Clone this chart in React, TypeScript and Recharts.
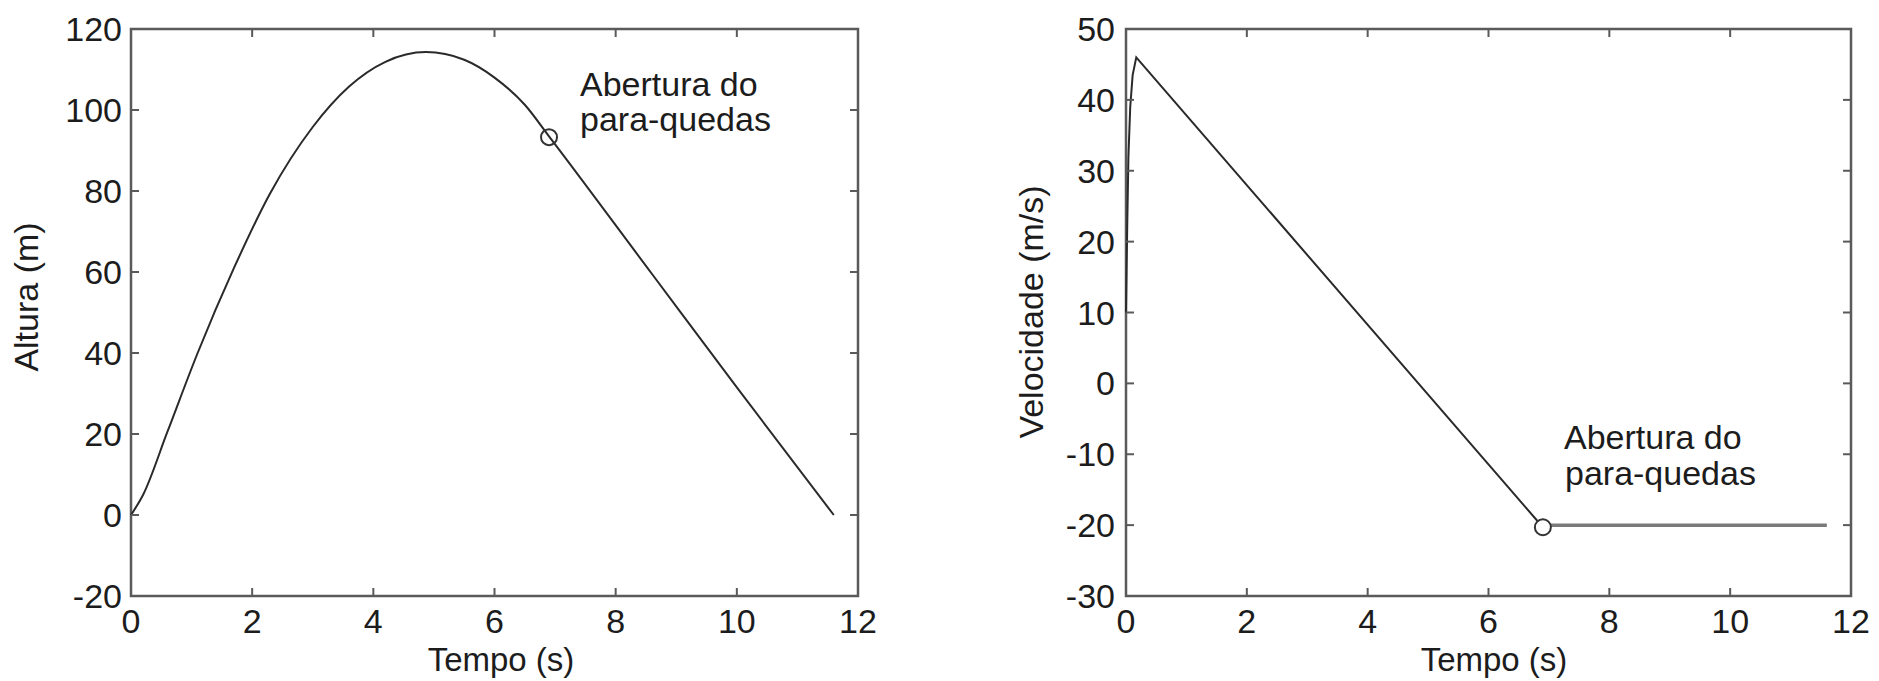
import React from "react";
import { LineChart, Line, XAxis, YAxis, ReferenceArea, ReferenceDot } from "recharts";

// Altura (m) vs Tempo (s)
const heightTime = [0, 0.2, 0.6, 1.1, 1.7, 2.3, 3.0, 3.6, 4.2, 4.87, 5.5, 6.0, 6.5, 6.9, 8.6, 10.0, 11.6];
const heightValue = [0, 5, 20.5, 40, 61, 79.5, 95.8, 105.8, 111.9, 114.3, 112.4, 108, 101.3, 93.5, 59.5, 31.5, 0];

// Velocidade (m/s) vs Tempo (s), before the parachute opens
const velTime = [0, 0.02, 0.04, 0.07, 0.11, 0.17, 6.9];
const velValue = [10, 22, 32, 39, 43.5, 46, -20.3];
// after the parachute opens
const chuteTime = [6.9, 11.6];
const chuteValue = [-20, -20];

// parachute opening markers [t, value]
const heightOpen = [6.9, 93.3];
const velOpen = [6.9, -20.3];

const xTicks = [0, 2, 4, 6, 8, 10, 12];
const heightTicks = [-20, 0, 20, 40, 60, 80, 100, 120];
const velTicks = [-30, -20, -10, 0, 10, 20, 30, 40, 50];

const heightData = heightTime.map((t, i) => ({ t, h: heightValue[i] }));
const velData = velTime.map((t, i) => ({ t, v: velValue[i] }));
const chuteData = chuteTime.map((t, i) => ({ t, v: chuteValue[i] }));

const FONT = '"Liberation Sans", Arial, Helvetica, sans-serif';
const INK = "#1c1c1c";
const BOX = "#5a5a5a";
const TICK_LEN = 8;

const makeXTick = (plotTop: number) => (props: any) => {
  const { x, y, payload } = props;
  return (
    <g>
      <line x1={x} y1={y} x2={x} y2={y - TICK_LEN} stroke={BOX} strokeWidth={2} />
      <line x1={x} y1={plotTop} x2={x} y2={plotTop + TICK_LEN} stroke={BOX} strokeWidth={2} />
      <text x={x} y={y + 37} textAnchor="middle" fontSize={34} fontFamily={FONT} fill={INK}>
        {payload.value}
      </text>
    </g>
  );
};

const makeYTick = (plotRight: number, gap: number) => (props: any) => {
  const { x, y, payload } = props;
  return (
    <g>
      <line x1={x} y1={y} x2={x + TICK_LEN} y2={y} stroke={BOX} strokeWidth={2} />
      <line x1={plotRight} y1={y} x2={plotRight - TICK_LEN} y2={y} stroke={BOX} strokeWidth={2} />
      <text x={x - gap} y={y + 12} textAnchor="end" fontSize={34} fontFamily={FONT} fill={INK}>
        {payload.value}
      </text>
    </g>
  );
};

function HeightChart() {
  return (
    <LineChart width={940} height={681} margin={{ top: 29, right: 82, bottom: 0, left: 0 }}>
      <XAxis
        type="number"
        dataKey="t"
        domain={[0, 12]}
        ticks={xTicks}
        height={85}
        axisLine={false}
        tickLine={false}
        tickSize={0}
        tickMargin={0}
        tick={makeXTick(29)}
        interval={0}
      />
      <YAxis
        type="number"
        domain={[-20, 120]}
        ticks={heightTicks}
        width={131}
        axisLine={false}
        tickLine={false}
        tickSize={0}
        tickMargin={0}
        tick={makeYTick(858, 9)}
        interval={0}
      />
      <ReferenceArea x1={0} x2={12} y1={-20} y2={120} fill="none" stroke={BOX} strokeWidth={2.5} />
      <Line
        data={heightData}
        dataKey="h"
        type="monotone"
        stroke="#2a2a2a"
        strokeWidth={2}
        dot={false}
        isAnimationActive={false}
      />
      <ReferenceDot x={heightOpen[0]} y={heightOpen[1]} r={8} fill="none" stroke="#333" strokeWidth={2} />
    </LineChart>
  );
}

function VelocityChart() {
  return (
    <LineChart width={939} height={681} margin={{ top: 29, right: 28, bottom: 0, left: 0 }}>
      <XAxis
        type="number"
        dataKey="t"
        domain={[0, 12]}
        ticks={xTicks}
        height={85}
        axisLine={false}
        tickLine={false}
        tickSize={0}
        tickMargin={0}
        tick={makeXTick(29)}
        interval={0}
      />
      <YAxis
        type="number"
        domain={[-30, 50]}
        ticks={velTicks}
        width={186}
        axisLine={false}
        tickLine={false}
        tickSize={0}
        tickMargin={0}
        tick={makeYTick(1851 - 940, 11)}
        interval={0}
      />
      <ReferenceArea x1={0} x2={12} y1={-30} y2={50} fill="none" stroke={BOX} strokeWidth={2.5} />
      <Line
        data={chuteData}
        dataKey="v"
        type="linear"
        stroke="#7a7a7a"
        strokeWidth={3.5}
        dot={false}
        isAnimationActive={false}
      />
      <Line
        data={velData}
        dataKey="v"
        type="linear"
        stroke="#2a2a2a"
        strokeWidth={2}
        dot={false}
        isAnimationActive={false}
      />
      <ReferenceDot x={velOpen[0]} y={velOpen[1]} r={8} fill="#fff" stroke="#333" strokeWidth={2} />
    </LineChart>
  );
}

export default function App() {
  const txt = { fontFamily: FONT, fontSize: 34, fill: INK } as const;
  const title = { fontFamily: FONT, fontSize: 33, fill: INK } as const;
  return (
    <div style={{ position: "absolute", left: 0, top: 0, width: 1879, height: 681, background: "#fff" }}>
      <div style={{ position: "absolute", left: 0, top: 0 }}>
        <HeightChart />
      </div>
      <div style={{ position: "absolute", left: 940, top: 0 }}>
        <VelocityChart />
      </div>
      <svg width={1879} height={681} style={{ position: "absolute", left: 0, top: 0, pointerEvents: "none" }}>
        <text x={501} y={671} textAnchor="middle" {...title}>Tempo (s)</text>
        <text x={1494} y={671} textAnchor="middle" {...title}>Tempo (s)</text>
        <text transform="translate(38,297) rotate(-90)" textAnchor="middle" {...txt}>Altura (m)</text>
        <text transform="translate(1043,312) rotate(-90)" textAnchor="middle" {...txt}>Velocidade (m/s)</text>
        <text x={580} y={96} {...txt}>Abertura do</text>
        <text x={580} y={131} {...txt}>para-quedas</text>
        <text x={1564} y={449} {...txt}>Abertura do</text>
        <text x={1565} y={485} {...txt}>para-quedas</text>
      </svg>
    </div>
  );
}
